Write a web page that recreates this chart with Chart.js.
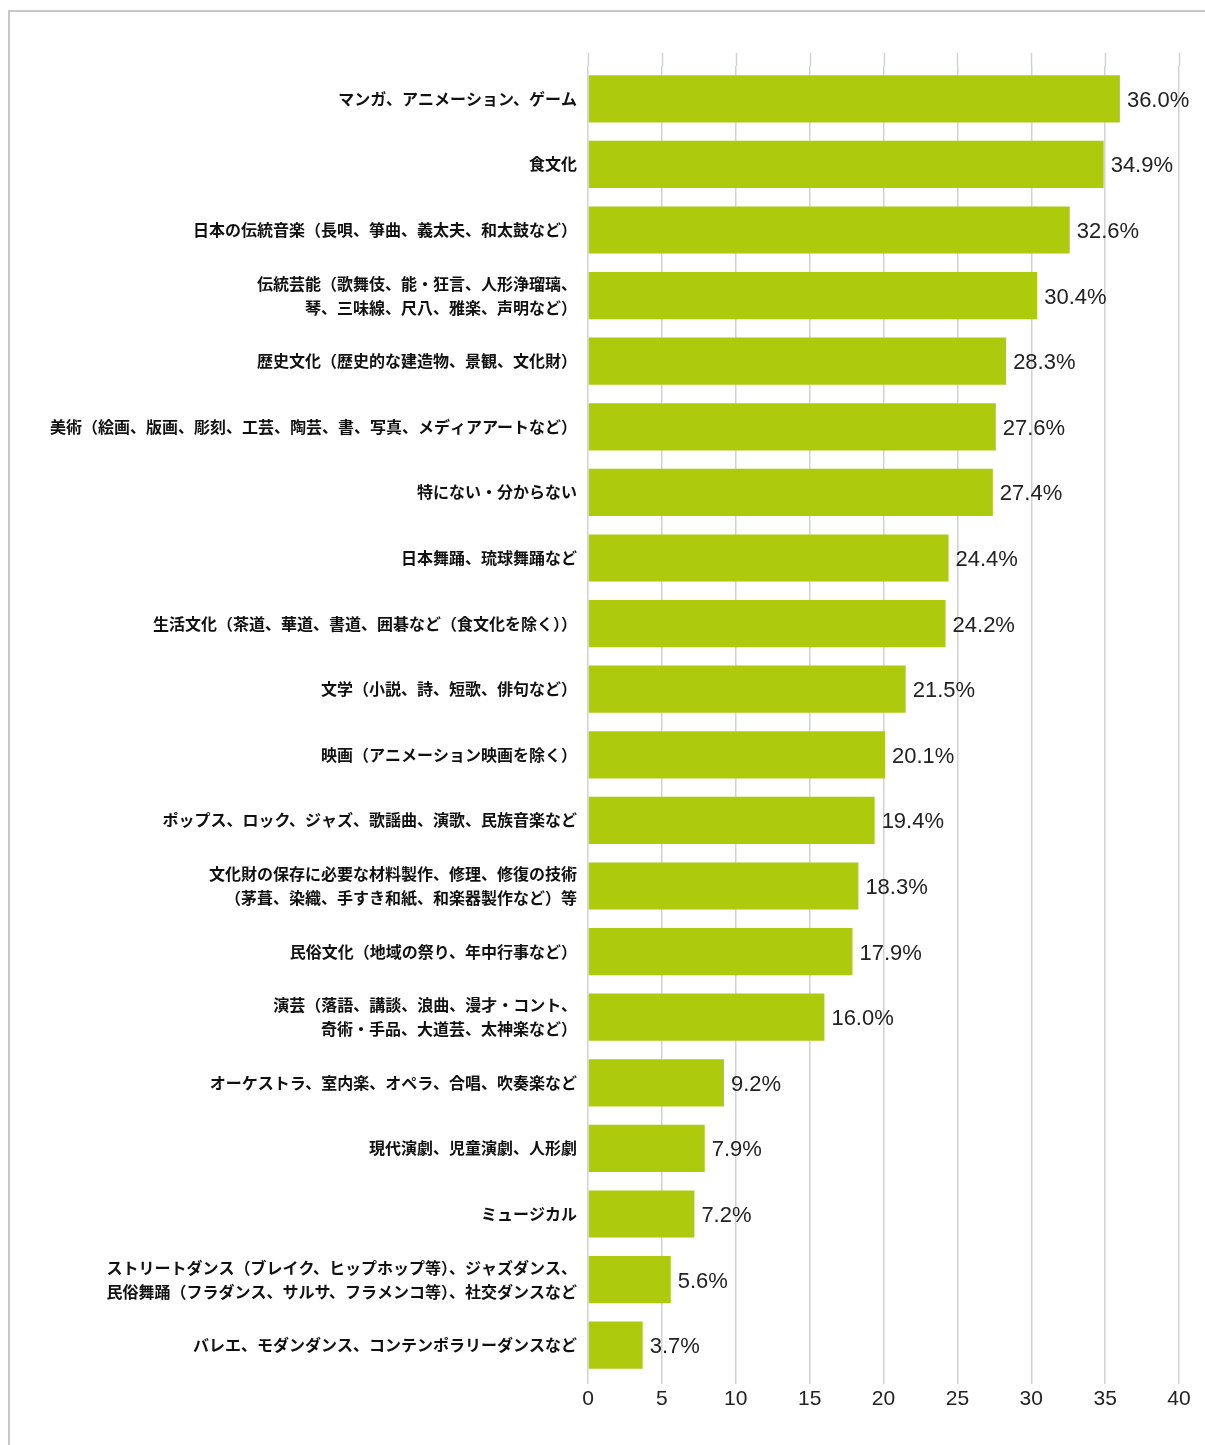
<!DOCTYPE html>
<html lang="ja">
<head>
<meta charset="utf-8">
<title>日本の文化芸術</title>
<script src="https://cdn.jsdelivr.net/npm/chart.js@4.4.1/dist/chart.umd.min.js"></script>
<style>
  html, body { margin: 0; padding: 0; background: #fff; }
  #wrap { position: relative; width: 1205px; height: 1445px; }
  #frame {
    position: absolute; left: 8px; top: 10px; right: -4px; bottom: -4px;
    border-left: 2px solid #c8c8c8; border-top: 2px solid #c8c8c8;
  }
  #chart { position: absolute; left: 0; top: 0; }
</style>
</head>
<body>
<div id="wrap">
  <div id="frame"></div>
  <canvas id="chart" width="1205" height="1445"></canvas>
</div>
<script>
const categories = [
    'マンガ、アニメーション、ゲーム',
    '食文化',
    '日本の伝統音楽（長唄、箏曲、義太夫、和太鼓など）',
    ['伝統芸能（歌舞伎、能・狂言、人形浄瑠璃、', '琴、三味線、尺八、雅楽、声明など）'],
    '歴史文化（歴史的な建造物、景観、文化財）',
    '美術（絵画、版画、彫刻、工芸、陶芸、書、写真、メディアアートなど）',
    '特にない・分からない',
    '日本舞踊、琉球舞踊など',
    '生活文化（茶道、華道、書道、囲碁など（食文化を除く））',
    '文学（小説、詩、短歌、俳句など）',
    '映画（アニメーション映画を除く）',
    'ポップス、ロック、ジャズ、歌謡曲、演歌、民族音楽など',
    ['文化財の保存に必要な材料製作、修理、修復の技術', '（茅葺、染織、手すき和紙、和楽器製作など）等'],
    '民俗文化（地域の祭り、年中行事など）',
    ['演芸（落語、講談、浪曲、漫才・コント、', '奇術・手品、大道芸、太神楽など）'],
    'オーケストラ、室内楽、オペラ、合唱、吹奏楽など',
    '現代演劇、児童演劇、人形劇',
    'ミュージカル',
    ['ストリートダンス（ブレイク、ヒップホップ等）、ジャズダンス、', '民俗舞踊（フラダンス、サルサ、フラメンコ等）、社交ダンスなど'],
    'バレエ、モダンダンス、コンテンポラリーダンスなど'
];

const percentages = [36.0, 34.9, 32.6, 30.4, 28.3, 27.6, 27.4, 24.4, 24.2, 21.5,
                     20.1, 19.4, 18.3, 17.9, 16.0, 9.2, 7.9, 7.2, 5.6, 3.7];

const xTicks = [0, 5, 10, 15, 20, 25, 30, 35, 40];

const barColor = '#aeca0c';
const gridColor = '#d2d2d2';

// grid lines reach a bit above the first bar in the original
const gridTopPlugin = {
    id: 'gridTop',
    beforeDatasetsDraw(chart) {
        const ctx = chart.ctx;
        const x = chart.scales.x;
        const top = chart.chartArea.top;
        ctx.save();
        ctx.strokeStyle = gridColor;
        ctx.lineWidth = 1.5;
        xTicks.forEach(v => {
            const px = Math.round(x.getPixelForValue(v)) + 0.5;
            ctx.beginPath();
            ctx.moveTo(px, top - 13);
            ctx.lineTo(px, top);
            ctx.stroke();
        });
        ctx.restore();
    }
};

const valueLabelPlugin = {
    id: 'valueLabels',
    afterDatasetsDraw(chart) {
        const ctx = chart.ctx;
        const meta = chart.getDatasetMeta(0);
        ctx.save();
        ctx.font = '22px "Liberation Sans", Arial, sans-serif';
        ctx.fillStyle = '#222';
        ctx.textAlign = 'left';
        ctx.textBaseline = 'middle';
        meta.data.forEach((bar, i) => {
            ctx.fillText(percentages[i].toFixed(1) + '%', bar.x + 7, bar.y + 2);
        });
        ctx.restore();
    }
};

new Chart(document.getElementById('chart'), {
    type: 'bar',
    data: {
        labels: categories,
        datasets: [{
            data: percentages,
            backgroundColor: barColor,
            borderWidth: 0,
            barPercentage: 0.72,
            categoryPercentage: 1.0
        }]
    },
    options: {
        indexAxis: 'y',
        responsive: false,
        animation: false,
        layout: { padding: { top: 66, right: 26, bottom: 0, left: 0 } },
        scales: {
            x: {
                min: 0,
                max: 40,
                afterBuildTicks: scale => { scale.ticks = xTicks.map(v => ({ value: v })); },
                afterFit: scale => { scale.height = 67; },
                grid: {
                    color: gridColor,
                    lineWidth: 1.5,
                    drawTicks: true,
                    tickLength: 6
                },
                border: { display: false },
                ticks: {
                    padding: 3,
                    color: '#222',
                    font: { family: '"Liberation Sans", Arial, sans-serif', size: 21 }
                }
            },
            y: {
                afterFit: scale => { scale.width = 588; },
                grid: { display: false },
                border: { display: false },
                ticks: {
                    padding: 3,
                    color: '#111',
                    autoSkip: false,
                    font: {
                        family: '"Noto Sans CJK JP", "Noto Sans", sans-serif',
                        size: 16,
                        weight: 'bold',
                        lineHeight: '24px'
                    }
                }
            }
        },
        plugins: {
            legend: { display: false },
            tooltip: { enabled: false }
        }
    },
    plugins: [gridTopPlugin, valueLabelPlugin]
});
</script>
</body>
</html>
